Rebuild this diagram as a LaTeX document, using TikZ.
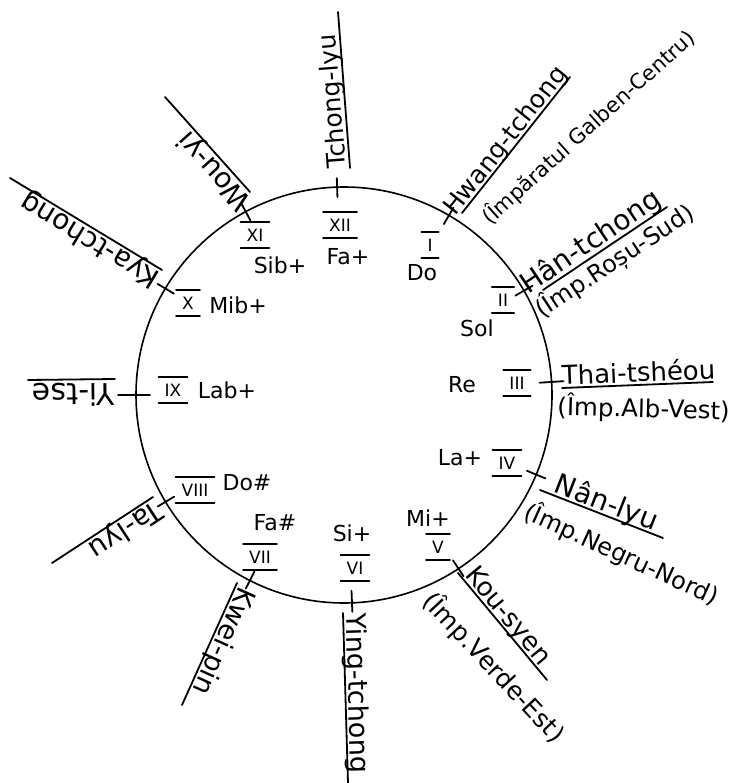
\documentclass[tikz,border=0pt]{standalone}
\usepackage{fontspec}
\setmainfont{DejaVu Sans}
\usetikzlibrary{calc}
\newcommand{\fs}[1]{\fontsize{#1}{#1}\selectfont}
\begin{document}
\begin{tikzpicture}[x=1pt,y=-1pt,
  pen/.style={line width=1.8pt, line cap=round},
  circ/.style={line width=1.6pt},
  txt/.style={inner sep=0pt, anchor=base west},
  note/.style={font=\fs{22}, inner sep=0pt},
  num/.style={font=\fs{17}, inner xsep=6pt, inner ysep=6.5pt},
  bar/.style={line width=1.7pt, line cap=round}]
\useasboundingbox (0,0) rectangle (735,783);
\coordinate (O) at (344,395);
\draw[circ] (O) circle[radius=208pt];
% ticks across the circle
\foreach \n/\a/\ri/\ro in {XII/91.9/198/217, I/59.7/198/217, II/30.1/198/218,
  III/3.6/196/220, IV/-22.5/198/218, V/-56.6/198/217, VI/-87.8/196/217,
  VII/-116.9/198/217, VIII/-149.1/198/217, IX/180/194/226, X/149.2/198/217,
  XI/118.2/198/217}{
  \coordinate (ti\n) at ($(O)+(\a:\ri pt)$);
  \coordinate (to\n) at ($(O)+(\a:\ro pt)$);
  \draw[pen] (ti\n) -- (to\n);
}
% numerals and notes inside
\foreach \r/\x/\y/\nt/\nx/\ny in {XII/340/225/Fa+/348/257, XI/255/235/Sib+/280/265,
  X/188/303/Mib+/238/305, IX/173/390/Lab+/227/390, VIII/195/490/Do\#/247/483,
  VII/260/557/Fa\#/275/523, VI/355/568/Si+/352/533, V/438/547/Mi+/428/518,
  IV/507/463/La+/460/458, III/517/383/Re/462/385, II/503/300/Sol/477/328,
  I/430/245/Do/422/273}{
  \node[num] (n\r) at (\x,\y) {\r};
  \draw[bar] (n\r.north west) -- (n\r.north east) (n\r.south west) -- (n\r.south east);
  \node[note] (m\r) at (\nx,\ny) {\nt};
}
% outer labels
\coordinate (aXII) at (350,168); \coordinate (bXII) at (338,12);
\draw[pen] (aXII) -- (bXII);
\node[txt, rotate=94.4, font=\fs{25}] (tXII) at (346,168) {Tchong-lyu};

\coordinate (aXI) at (250,192); \coordinate (bXI) at (165,97);
\draw[pen] (aXI) -- (bXI);
\node[txt, rotate=131.8, font=\fs{28}] (tXI) at (252.5,201) {Wou-yi};

\coordinate (aX) at (162,270); \coordinate (bX) at (10,178);
\draw[pen] (aX) -- (bX);
\node[txt, rotate=148.8, font=\fs{28}] (tX) at (162,274) {Kya-tchong};

\coordinate (aIX) at (115,379); \coordinate (bIX) at (28,380);
\draw[pen] (aIX) -- (bIX);
\node[txt, rotate=180.7, font=\fs{30}] (tIX) at (115,383) {Yi-tse};

\coordinate (aVIII) at (153,497); \coordinate (bVIII) at (52,563);
\draw[pen] (aVIII) -- (bVIII);
\node[txt, rotate=213.2, font=\fs{28}] (tVIII) at (155,500) {Ta-lyu};

\coordinate (aVII) at (237,583); \coordinate (bVII) at (182,705);
\draw[pen] (aVII) -- (bVII);
\node[txt, rotate=-114.3, font=\fs{27}] (tVII) at (240,585) {Kwei-pin};

\coordinate (aVI) at (343,613); \coordinate (bVI) at (348,783);
\draw[pen] (aVI) -- (bVI);
\node[txt, rotate=-88.3, font=\fs{27}] (tVI) at (346,613) {Ying-tchong};

\coordinate (aV) at (458,573); \coordinate (bV) at (547,680);
\draw[pen] (aV) -- (bV);
\node[txt, rotate=-50.3, font=\fs{26}] (tV) at (464,575) {Kou-syen};
\node[txt, rotate=-47, font=\fs{25}] (uV) at (421,602) {(Împ.Verde-Est)};

\coordinate (aIV) at (540,490); \coordinate (bIV) at (663,538);
\draw[pen] (aIV) -- (bIV);
\node[txt, rotate=-21.3, font=\fs{28}] (tIV) at (552.8,491.8) {Nân-lyu};
\node[txt, rotate=-24.5, font=\fs{24}] (uIV) at (522,518) {(Împ.Negru-Nord)};

\coordinate (aIII) at (562,388); \coordinate (bIII) at (713,382);
\draw[pen] (aIII) -- (bIII);
\node[txt, rotate=2.3, font=\fs{26}] (tIII) at (562,385) {Thai-tshéou};
\node[txt, rotate=-1.5, font=\fs{24.5}] (uIII) at (557,415) {(Împ.Alb-Vest)};

\coordinate (aII) at (543,290); \coordinate (bII) at (667,207);
\draw[pen] (aII) -- (bII);
\node[txt, rotate=34, font=\fs{28}] (tII) at (528,295) {Hân-tchong};
\node[txt, rotate=33.5, font=\fs{24}] (uII) at (542,319) {(Împ.Roșu-Sud)};

\coordinate (aI) at (462,213); \coordinate (bI) at (570,77);
\draw[pen] (aI) -- (bI);
\node[txt, rotate=51.6, font=\fs{25}] (tI) at (455,217) {Hwang-tchong};
\node[txt, rotate=42, font=\fs{21}] (uI) at (490,226) {(Împăratul Galben-Centru)};
\end{tikzpicture}
\end{document}
